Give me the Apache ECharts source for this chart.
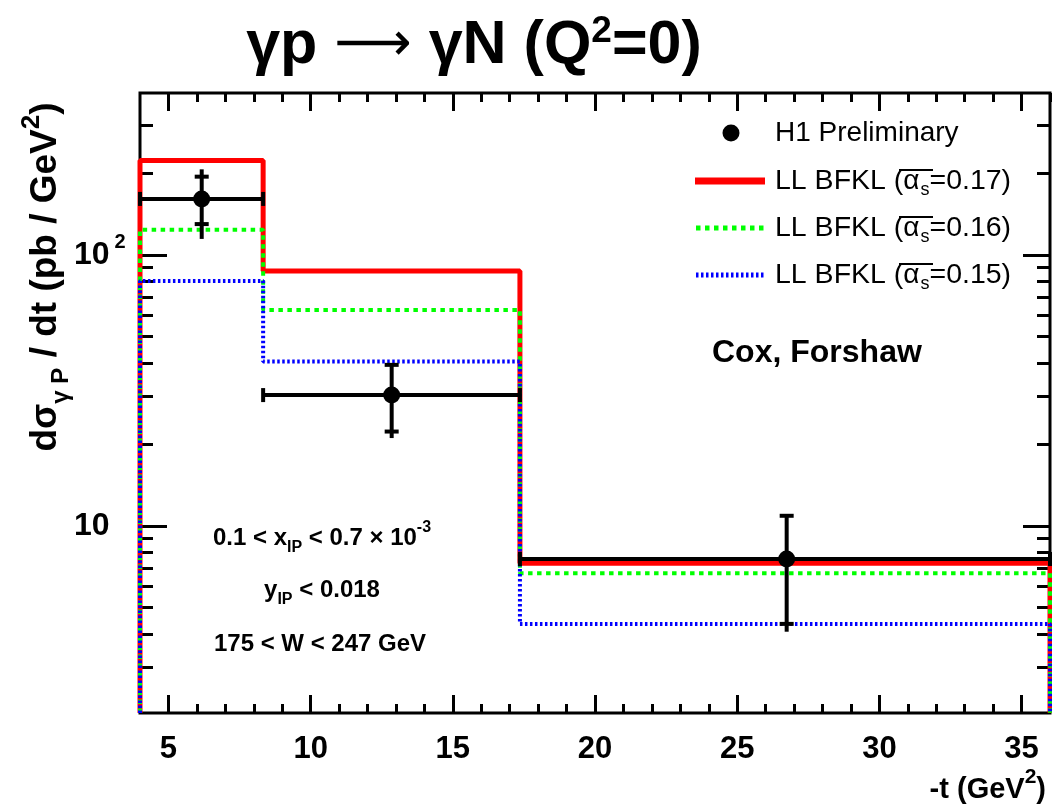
<!DOCTYPE html>
<html><head><meta charset="utf-8">
<script src="https://cdn.jsdelivr.net/npm/echarts@6/dist/echarts.min.js"></script>
<style>html,body{margin:0;padding:0;background:#fff}#c{width:1052px;height:812px}</style>
</head><body><div id="c"></div>
<script>
// ---- data ----
const binEdges = [4, 8.33, 17.36, 36];
const bfkl017 = [223, 87.3, 7.28];
const bfkl016 = [124, 62.7, 6.69];
const bfkl015 = [80.2, 40.4, 4.35];
const dataX  = [6.17, 12.85, 26.74];
const dataY  = [161, 30.4, 7.55];
const statLo = [130, 22.3, 4.35];
const statHi = [194.5, 39.3, 10.9];
const totLo  = [114.6, 21.1, 4.07];
const totHi  = [207, 39.8, 11.04];
const xMajor = [5, 10, 15, 20, 25, 30, 35];
const xMinor = [5,6,7,8,9,10,11,12,13,14,15,16,17,18,19,20,21,22,23,24,25,26,27,28,29,30,31,32,33,34,35,36];
const yMajor = [10, 100];
const yMinor = [3,4,5,6,7,8,9,20,30,40,50,60,70,80,90,200,300];
const yMin = 2.04, yMax = 396;
const xMin = 4, xMax = 36;

const FONT = 'Liberation Sans';
const L = v => Math.log10(v);

function steps(vals) {
  const p = [[binEdges[0], yMin]];
  vals.forEach((v, i) => { p.push([binEdges[i], v]); p.push([binEdges[i + 1], v]); });
  p.push([binEdges[binEdges.length - 1], yMin]);
  return p;
}

const chart = echarts.init(document.getElementById('c'), null, {renderer: 'canvas'});

const tickStyle = {color: '#000', width: 3};
function xAx(pos, vals, len, labels) {
  return {
    type: 'value', min: xMin, max: xMax, position: pos,
    axisLine: {show: false, onZero: false}, splitLine: {show: false},
    axisTick: {show: true, inside: true, length: len, lineStyle: tickStyle, customValues: vals},
    axisLabel: labels ? {show: true, customValues: vals, margin: 21, color: '#000',
      fontFamily: FONT, fontWeight: 'bold', fontSize: 31} : {show: false}
  };
}
function yAx(pos, vals, len, labels) {
  return {
    type: 'value', min: L(yMin), max: L(yMax), position: pos,
    axisLine: {show: false, onZero: false}, splitLine: {show: false},
    axisTick: {show: true, inside: true, length: len, lineStyle: tickStyle, customValues: vals.map(L)},
    axisLabel: labels ? {
      show: true, customValues: vals.map(L), margin: 66, align: 'left', color: '#000',
      formatter: v => Math.round(v) === 1 ? '{b|10}' : '{b|10}{s|' + Math.round(v) + '}',
      rich: {
        b: {fontFamily: FONT, fontWeight: 'bold', fontSize: 32, lineHeight: 44, color: '#000'},
        s: {fontFamily: FONT, fontWeight: 'bold', fontSize: 20, lineHeight: 20, verticalAlign: 'top', color: '#000', padding: [0, 0, 0, 5]}
      }
    } : {show: false}
  };
}

const errData = dataX.map((x, i) => [x, dataY[i], binEdges[i], binEdges[i + 1], statLo[i], statHi[i], totLo[i], totHi[i]]);

function renderErr(params, api) {
  const y = api.value(1);
  const c = api.coord([api.value(0), y]);
  const l = api.coord([api.value(2), y]);
  const r = api.coord([api.value(3), y]);
  const sl = api.coord([api.value(0), api.value(4)]);
  const sh = api.coord([api.value(0), api.value(5)]);
  const tl = api.coord([api.value(0), api.value(6)]);
  const th = api.coord([api.value(0), api.value(7)]);
  const st = {stroke: '#000', lineWidth: 4};
  const ln = (x1, y1, x2, y2) => ({type: 'line', shape: {x1, y1, x2, y2}, style: st});
  return {type: 'group', children: [
    ln(l[0], c[1], r[0], c[1]),
    ln(l[0], c[1] - 7, l[0], c[1] + 7),
    ln(r[0], c[1] - 7, r[0], c[1] + 7),
    ln(c[0], tl[1], c[0], th[1]),
    ln(c[0] - 7, sl[1], c[0] + 7, sl[1]),
    ln(c[0] - 7, sh[1], c[0] + 7, sh[1]),
    {type: 'circle', shape: {cx: c[0], cy: c[1], r: 8.5}, style: {fill: '#000'}}
  ]};
}

const txt = (x, y, text, size, weight, align, extra) => Object.assign({
  type: 'text', x, y, z: 100,
  style: Object.assign({text, fill: '#000', font: (weight || 'normal') + ' ' + size + 'px "' + FONT + '"',
    align: align || 'left', verticalAlign: 'middle'}, extra || {})
});

const legendRich = {
  a: {fontFamily: FONT, fontSize: 28, lineHeight: 36, color: '#000'},
  s: {fontFamily: FONT, fontSize: 18, lineHeight: 18, verticalAlign: 'bottom', color: '#000', padding: [0, 0, 0, 1]}
};
const subSupRich = (sub, sup) => ({
  sub: {fontFamily: FONT, fontWeight: 'bold', fontSize: sub, lineHeight: sub, verticalAlign: 'bottom', color: '#000'},
  sup: {fontFamily: FONT, fontWeight: 'bold', fontSize: sup, lineHeight: sup, verticalAlign: 'top', color: '#000'},
  arr: {fontFamily: 'DejaVu Sans', fontWeight: 'normal', fontSize: 54, color: '#000'}
});

const legendRows = [181, 228, 275];
const legendLabels = ['0.17', '0.16', '0.15'];

const graphics = [
  // title
  txt(474, 46, 'γp {arr|⟶} γN (Q{sup|2}=0)', 61, 'bold', 'center', {lineHeight: 66, rich: subSupRich(34, 37)}),
  // y axis title
  Object.assign(txt(46, 277, 'dσ{sub|γ P} / dt (pb / GeV{sup|2})', 37, 'bold', 'center',
    {lineHeight: 54, rich: subSupRich(24, 26)}), {rotation: Math.PI / 2}),
  // x axis title
  txt(1046, 790, '-t (GeV{sup|2})', 29, 'bold', 'right', {lineHeight: 46, rich: subSupRich(18, 21)}),
  // annotations
  txt(322, 538, '0.1 < x{sub|IP} < 0.7 × 10{sup|-3}', 24, 'bold', 'center', {lineHeight: 36, rich: subSupRich(16, 16)}),
  txt(322, 590, 'y{sub|IP} < 0.018', 24, 'bold', 'center', {lineHeight: 36, rich: subSupRich(16, 16)}),
  txt(320, 644, '175 < W < 247 GeV', 24, 'bold', 'center'),
  txt(712, 353, 'Cox, Forshaw', 32, 'bold', 'left'),
  // legend
  {type: 'circle', z: 100, shape: {cx: 731, cy: 133, r: 8.5}, style: {fill: '#000'}},
  txt(775, 133, 'H1 Preliminary', 28, 'normal', 'left'),
  {type: 'line', z: 100, shape: {x1: 695, y1: 181, x2: 765, y2: 181}, style: {stroke: '#ff0000', lineWidth: 7}},
  {type: 'line', z: 100, shape: {x1: 696, y1: 228, x2: 765, y2: 228}, style: {stroke: '#00ff00', lineWidth: 5, lineDash: [4.5, 4.5]}},
  {type: 'line', z: 100, shape: {x1: 696, y1: 275, x2: 765, y2: 275}, style: {stroke: '#0000ff', lineWidth: 5, lineDash: [2.5, 2.5]}}
];
legendRows.forEach((y, i) => {
  graphics.push(txt(775, y, 'LL BFKL ({a|α}{s|s}=' + legendLabels[i] + ')', 28.5, 'normal', 'left', {lineHeight: 36, rich: legendRich}));
  graphics.push({type: 'line', z: 100, shape: {x1: 899, y1: y - 11, x2: 933, y2: y - 11}, style: {stroke: '#000', lineWidth: 2}});
});

chart.setOption({
  animation: false,
  backgroundColor: '#fff',
  grid: {left: 140, right: 2, top: 93, bottom: 99, show: true, borderColor: '#000', borderWidth: 3, backgroundColor: 'transparent', containLabel: false},
  xAxis: [
    xAx('bottom', xMajor, 18, true),
    xAx('bottom', xMinor, 9, false),
    xAx('top', xMajor, 18, false),
    xAx('top', xMinor, 9, false)
  ],
  yAxis: [
    {type: 'log', logBase: 10, min: yMin, max: yMax, show: false},
    yAx('left', yMajor, 27, true),
    yAx('left', yMinor, 13, false),
    yAx('right', yMajor, 27, false),
    yAx('right', yMinor, 13, false)
  ],
  series: [
    {type: 'line', name: 'LL BFKL 0.17', data: steps(bfkl017), symbol: 'none', xAxisIndex: 0, yAxisIndex: 0,
      lineStyle: {color: '#ff0000', width: 5, cap: 'butt'}, z: 3},
    {type: 'line', name: 'LL BFKL 0.16', data: steps(bfkl016), symbol: 'none', xAxisIndex: 0, yAxisIndex: 0,
      lineStyle: {color: '#00ff00', width: 4, type: [4.5, 4.5], cap: 'butt'}, z: 4},
    {type: 'line', name: 'LL BFKL 0.15', data: steps(bfkl015), symbol: 'none', xAxisIndex: 0, yAxisIndex: 0,
      lineStyle: {color: '#0000ff', width: 4, type: [2.5, 2.5], cap: 'butt'}, z: 5},
    {type: 'custom', name: 'H1 Preliminary', data: errData, xAxisIndex: 0, yAxisIndex: 0,
      renderItem: renderErr, z: 6, clip: false}
  ],
  graphic: graphics
});
</script>
</body></html>
